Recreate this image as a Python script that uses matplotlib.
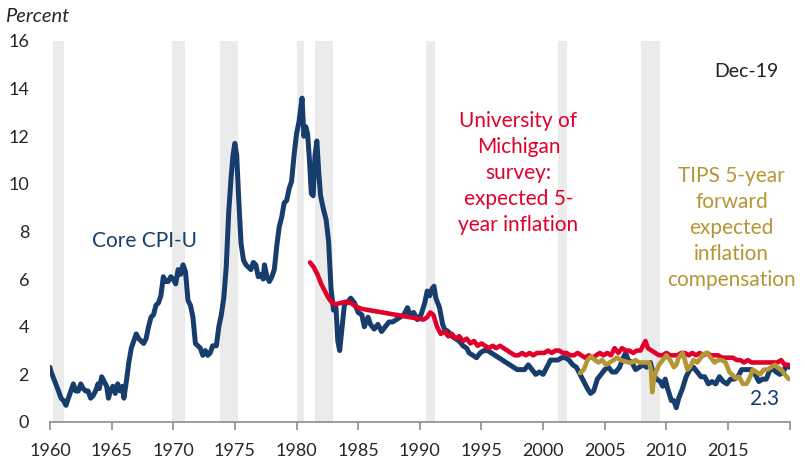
import numpy as np
import matplotlib
matplotlib.use('Agg')
import matplotlib.pyplot as plt

plt.rcParams["font.family"] = ["Lato", "DejaVu Sans"]

# Core CPI-U, 12-month change (percent)
cpi_years = [
    1960.0, 1960.1, 1960.4, 1960.7, 1960.9, 1961.1, 1961.3, 1961.5, 1961.7, 1961.9,
    1962.1, 1962.3, 1962.5, 1962.7, 1962.9, 1963.1, 1963.3, 1963.5, 1963.7, 1963.9,
    1964.0, 1964.2, 1964.4, 1964.6, 1964.75, 1964.9, 1965.1, 1965.3, 1965.5, 1965.7,
    1965.9, 1966.0, 1966.2, 1966.4, 1966.6, 1966.8, 1967.0, 1967.2, 1967.4, 1967.6,
    1967.8, 1968.0, 1968.2, 1968.4, 1968.6, 1968.8, 1969.0, 1969.2, 1969.4, 1969.6,
    1969.8, 1970.0, 1970.2, 1970.4, 1970.6, 1970.8, 1971.0, 1971.2, 1971.4, 1971.6,
    1971.8, 1972.0, 1972.2, 1972.4, 1972.6, 1972.8, 1973.0, 1973.2, 1973.5, 1973.7,
    1973.9, 1974.1, 1974.3, 1974.5, 1974.7, 1974.85, 1975.0, 1975.15, 1975.3, 1975.5,
    1975.7, 1975.9, 1976.1, 1976.3, 1976.5, 1976.7, 1976.9, 1977.1, 1977.3, 1977.4,
    1977.6, 1977.8, 1978.0, 1978.2, 1978.4, 1978.6, 1978.8, 1979.0, 1979.2, 1979.4,
    1979.6, 1979.8, 1980.0, 1980.2, 1980.45, 1980.6, 1980.75, 1980.9, 1981.05, 1981.2,
    1981.35, 1981.5, 1981.65, 1981.8, 1981.95, 1982.2, 1982.4, 1982.6, 1982.8, 1983.0,
    1983.2, 1983.35, 1983.5, 1983.7, 1983.9, 1984.1, 1984.4, 1984.7, 1985.0, 1985.3,
    1985.5, 1985.8, 1986.0, 1986.3, 1986.6, 1986.9, 1987.2, 1987.5, 1987.8, 1988.1,
    1988.4, 1988.7, 1989.0, 1989.2, 1989.5, 1989.8, 1990.1, 1990.4, 1990.6, 1990.8,
    1991.0, 1991.15, 1991.3, 1991.6, 1991.85, 1992.0, 1992.3, 1992.6, 1992.9, 1993.2,
    1993.5, 1993.8, 1994.0, 1994.3, 1994.6, 1994.9, 1995.2, 1995.5, 1995.8, 1996.1,
    1996.4, 1996.7, 1997.0, 1997.3, 1997.6, 1997.9, 1998.2, 1998.5, 1998.8, 1999.1,
    1999.4, 1999.7, 2000.0, 2000.3, 2000.6, 2000.9, 2001.2, 2001.5, 2001.8, 2002.1,
    2002.4, 2002.7, 2003.0, 2003.3, 2003.6, 2003.85, 2004.1, 2004.4, 2004.7, 2005.0,
    2005.3, 2005.6, 2005.9, 2006.2, 2006.5, 2006.7, 2006.9, 2007.2, 2007.5, 2007.8,
    2008.1, 2008.4, 2008.7, 2008.95, 2009.2, 2009.5, 2009.7, 2009.9, 2010.1, 2010.4,
    2010.6, 2010.8, 2011.0, 2011.3, 2011.6, 2011.9, 2012.2, 2012.5, 2012.8, 2013.1,
    2013.4, 2013.7, 2014.0, 2014.3, 2014.6, 2014.9, 2015.2, 2015.5, 2015.8, 2016.1,
    2016.4, 2016.7, 2016.9, 2017.2, 2017.5, 2017.8, 2018.1, 2018.4, 2018.7, 2018.9,
    2019.2, 2019.5, 2019.7, 2019.92,
]
cpi_values = [
    2.3, 2.1, 1.7, 1.3, 1.0, 0.9, 0.7, 1.0, 1.3, 1.6,
    1.3, 1.3, 1.6, 1.4, 1.3, 1.3, 1.0, 1.1, 1.3, 1.6,
    1.4, 1.9, 1.7, 1.5, 1.0, 1.3, 1.5, 1.2, 1.6, 1.3,
    1.5, 1.0, 1.7, 2.5, 3.1, 3.4, 3.7, 3.5, 3.4, 3.3,
    3.5, 4.0, 4.4, 4.5, 4.9, 5.0, 5.3, 6.1, 5.9, 5.9,
    6.1, 6.0, 5.8, 6.4, 6.2, 6.6, 6.3, 5.1, 4.9, 4.4,
    3.3, 3.2, 3.1, 2.8, 3.0, 2.8, 2.9, 3.2, 3.2, 4.0,
    4.5, 5.2, 6.5, 8.8, 10.3, 11.2, 11.7, 11.2, 9.5, 7.5,
    6.8, 6.6, 6.5, 6.4, 6.7, 6.6, 6.1, 6.2, 6.0, 6.6,
    6.1, 5.9, 6.1, 6.4, 7.4, 8.2, 8.6, 9.2, 9.3, 9.8,
    10.1, 11.2, 12.1, 12.6, 13.6, 12.0, 12.4, 12.1, 11.0, 9.6,
    9.5, 11.2, 11.8, 10.5, 9.5, 8.9, 8.5, 7.6, 5.6, 4.7,
    4.8, 3.4, 3.0, 4.0, 5.0, 5.0, 5.2, 5.0, 4.6, 4.5,
    4.0, 4.4, 4.1, 3.9, 4.1, 3.8, 4.0, 4.2, 4.2, 4.3,
    4.4, 4.5, 4.8, 4.5, 4.6, 4.3, 4.5, 5.0, 5.5, 5.3,
    5.6, 5.7, 5.2, 4.8, 4.1, 3.9, 3.8, 3.6, 3.5, 3.4,
    3.2, 3.1, 2.9, 2.8, 2.7, 2.9, 3.0, 3.0, 2.9, 2.8,
    2.7, 2.6, 2.5, 2.4, 2.3, 2.2, 2.2, 2.2, 2.4, 2.2,
    2.0, 2.1, 2.0, 2.3, 2.6, 2.6, 2.6, 2.7, 2.7, 2.6,
    2.4, 2.3, 2.0, 1.7, 1.4, 1.2, 1.3, 1.8, 2.0, 2.2,
    2.3, 2.1, 2.1, 2.3, 2.7, 2.9, 2.6, 2.5, 2.2, 2.3,
    2.4, 2.3, 2.5, 2.0, 1.8, 1.7, 1.5, 1.8, 1.4, 0.9,
    0.9, 0.6, 1.0, 1.4, 1.9, 2.2, 2.3, 2.1, 1.9, 1.9,
    1.6, 1.7, 1.6, 1.9, 1.7, 1.6, 1.8, 1.8, 1.9, 2.2,
    2.2, 2.2, 2.2, 2.0, 1.7, 1.8, 1.8, 2.2, 2.2, 2.1,
    2.0, 2.1, 2.4, 2.3,
]

# University of Michigan survey, expected 5-year inflation
mich_years = [
    1981.1, 1981.4, 1981.7, 1982.0, 1982.3, 1982.6, 1982.9, 1983.2, 1983.6, 1984.0,
    1984.4, 1984.8, 1985.3, 1990.3, 1990.6, 1990.85, 1991.1, 1991.4, 1991.7, 1992.0,
    1992.3, 1992.6, 1992.9, 1993.2, 1993.5, 1993.8, 1994.1, 1994.4, 1994.7, 1995.0,
    1995.3, 1995.6, 1995.9, 1996.2, 1996.5, 1996.8, 1997.1, 1997.4, 1997.7, 1998.0,
    1998.3, 1998.6, 1998.9, 1999.2, 1999.5, 1999.8, 2000.1, 2000.4, 2000.7, 2001.0,
    2001.3, 2001.6, 2001.9, 2002.2, 2002.5, 2002.8, 2003.1, 2003.4, 2003.7, 2004.0,
    2004.3, 2004.6, 2004.9, 2005.2, 2005.5, 2005.8, 2006.1, 2006.4, 2006.7, 2007.0,
    2007.3, 2007.6, 2007.9, 2008.1, 2008.3, 2008.5, 2008.8, 2009.1, 2009.4, 2009.7,
    2010.0, 2010.3, 2010.6, 2010.9, 2011.2, 2011.5, 2011.8, 2012.1, 2012.4, 2012.7,
    2013.0, 2013.3, 2013.6, 2013.9, 2014.2, 2014.5, 2014.8, 2015.1, 2015.4, 2015.7,
    2016.0, 2016.3, 2016.6, 2016.9, 2017.2, 2017.5, 2017.8, 2018.1, 2018.4, 2018.7,
    2019.0, 2019.3, 2019.6, 2019.92,
]
mich_values = [
    6.7, 6.5, 6.2, 5.8, 5.5, 5.2, 5.0, 4.95, 5.0, 5.05,
    5.0, 4.85, 4.75, 4.3, 4.4, 4.6, 4.5, 4.0, 3.7, 3.8,
    3.6, 3.7, 3.5, 3.6, 3.4, 3.5, 3.3, 3.4, 3.2, 3.3,
    3.2, 3.1, 3.2, 3.1, 3.2, 3.1, 3.0, 2.9, 2.8, 2.8,
    2.9, 2.8, 2.9, 2.8, 2.9, 2.9, 2.9, 3.0, 2.9, 3.0,
    3.0, 2.9, 2.9, 2.8, 2.8, 2.9, 2.8, 2.7, 2.8, 2.7,
    2.8, 2.9, 2.8, 2.9, 2.8, 3.1, 2.9, 3.1, 3.0, 3.0,
    2.9, 3.0, 3.0, 3.2, 3.4, 3.1, 3.0, 2.9, 2.8, 2.8,
    2.9, 2.8, 2.8, 2.8, 2.9, 2.9, 2.8, 2.9, 2.8, 2.9,
    2.8, 2.9, 2.8, 2.8, 2.8, 2.7, 2.7, 2.7, 2.7, 2.6,
    2.6, 2.5, 2.6, 2.5, 2.5, 2.5, 2.5, 2.5, 2.5, 2.5,
    2.5, 2.6, 2.4, 2.4,
]

# TIPS 5-year forward expected inflation compensation
tips_years = [
    2003.0, 2003.3, 2003.6, 2003.9, 2004.2, 2004.5, 2004.8, 2005.1, 2005.4, 2005.7,
    2006.0, 2006.3, 2006.6, 2006.9, 2007.2, 2007.5, 2007.8, 2008.1, 2008.4, 2008.6,
    2008.75, 2008.85, 2008.95, 2009.1, 2009.4, 2009.7, 2010.0, 2010.3, 2010.6, 2010.8,
    2011.0, 2011.3, 2011.5, 2011.7, 2011.9, 2012.2, 2012.5, 2012.8, 2013.0, 2013.3,
    2013.6, 2013.9, 2014.2, 2014.5, 2014.8, 2015.1, 2015.3, 2015.6, 2015.9, 2016.2,
    2016.5, 2016.8, 2017.0, 2017.3, 2017.6, 2017.9, 2018.2, 2018.5, 2018.8, 2019.0,
    2019.3, 2019.6, 2019.92,
]
tips_values = [
    2.05, 2.2, 2.6, 2.75, 2.6, 2.5, 2.6, 2.4, 2.5, 2.6,
    2.7, 2.6, 2.55, 2.5, 2.5, 2.6, 2.5, 2.5, 2.5, 2.5,
    2.2, 1.25, 1.7, 2.05, 2.4, 2.6, 2.8, 2.6, 2.3, 2.4,
    2.7, 2.9, 2.6, 2.2, 2.3, 2.6, 2.5, 2.7, 2.85, 2.9,
    2.7, 2.5, 2.6, 2.6, 2.5, 2.1, 2.0, 1.85, 1.9, 1.6,
    1.6, 1.9, 2.2, 2.1, 2.0, 2.2, 2.2, 2.3, 2.4, 2.3,
    2.2, 2.0, 1.8,
]

# NBER recessions (start, end)
recessions = [
    (1960.25, 1961.17), (1969.92, 1970.92), (1973.83, 1975.25), (1980.0, 1980.58),
    (1981.5, 1982.92), (1990.5, 1991.25), (2001.17, 2001.92), (2007.92, 2009.5),
]

blue = "#173d6c"
red = "#e2002b"
gold = "#b59634"
band = "#ebebeb"

fig = plt.figure(figsize=(8.05, 4.62), dpi=100)
ax = fig.add_axes([0.062, 0.0866, 0.919, 0.8247])

for start, end in recessions:
    ax.axvspan(start, end, color=band, lw=0, zorder=0)

ax.plot(cpi_years, cpi_values, color=blue, lw=3.6, solid_joinstyle='round',
        solid_capstyle='round', zorder=3)
ax.plot(mich_years, mich_values, color=red, lw=3.3, solid_joinstyle='round',
        solid_capstyle='round', zorder=4)
ax.plot(tips_years, tips_values, color=gold, lw=3.3, solid_joinstyle='round',
        solid_capstyle='round', zorder=5)

ax.set_xlim(1960, 2020)
ax.set_ylim(0, 16)

ax.set_yticks(np.arange(0, 17, 2))
ax.set_xticks(np.arange(1960, 2021, 5))
ax.set_xticklabels([str(y) for y in range(1960, 2020, 5)] + [""])

for side in ["top", "right", "left"]:
    ax.spines[side].set_visible(False)
ax.spines["bottom"].set_color("#8c8c8c")
ax.spines["bottom"].set_linewidth(1.2)
ax.tick_params(axis="x", length=6, width=1.2, color="#8c8c8c", pad=9,
               labelsize=13, labelcolor="#262626")
ax.tick_params(axis="y", length=0, pad=15, labelsize=13, labelcolor="#262626")

fig.text(0.006, 0.965, "Percent", style="italic", fontsize=14.5, color="#262626",
         va="center", ha="left")

ax.text(1967.7, 7.6, "Core CPI-U", color=blue, fontsize=15, ha="center", va="center")
ax.text(1998.0, 10.45, "University of\nMichigan\nsurvey:\nexpected 5-\nyear inflation",
        color=red, fontsize=15, ha="center", va="center", linespacing=1.38)
ax.text(2015.3, 8.15, "TIPS 5-year\nforward\nexpected\ninflation\ncompensation",
        color=gold, fontsize=15, ha="center", va="center", linespacing=1.38)
ax.text(2016.5, 14.7, "Dec-19", color="#222222", fontsize=14, ha="center", va="center")
ax.text(2018.0, 0.97, "2.3", color=blue, fontsize=15, ha="center", va="center")

fig.savefig("out.png", dpi=100)
